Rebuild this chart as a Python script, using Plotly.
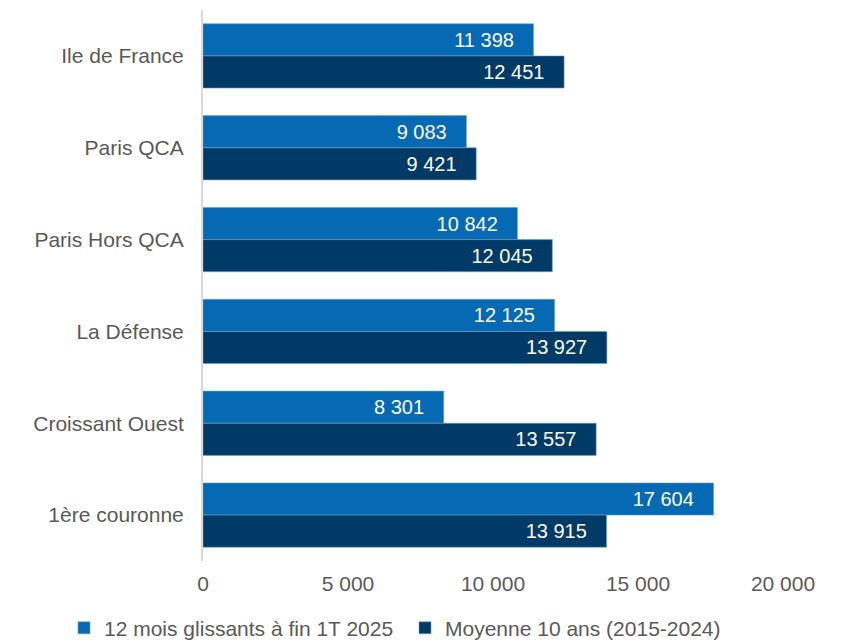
import plotly.graph_objects as go

regions = ["Ile de France", "Paris QCA", "Paris Hors QCA", "La Défense",
           "Croissant Ouest", "1ère couronne"]
rolling_12m = [11398, 9083, 10842, 12125, 8301, 17604]
avg_10y = [12451, 9421, 12045, 13927, 13557, 13915]
x_ticks = [0, 5000, 10000, 15000, 20000]

FONT = "Liberation Sans, Arial, sans-serif"
GREY = "#595959"
PAD = "\u00a0\u00a0\u00a0"  # keeps the value labels off the bar ends

fig = go.Figure()
fig.add_trace(go.Bar(
    y=regions, x=rolling_12m, orientation="h",
    name="12 mois glissants à fin 1T 2025", legend="legend",
    marker=dict(color="#0569b3", line=dict(color="#6f9fcf", width=0.6)),
    texttemplate="%{x:,d}" + PAD, textposition="inside", insidetextanchor="end",
    textfont=dict(color="white", size=20, family=FONT),
))
fig.add_trace(go.Bar(
    y=regions, x=avg_10y, orientation="h",
    name="Moyenne 10 ans (2015-2024)", legend="legend2",
    marker=dict(color="#003a66", line=dict(color="#6f9fcf", width=0.6)),
    texttemplate="%{x:,d}" + PAD, textposition="inside", insidetextanchor="end",
    textfont=dict(color="white", size=20, family=FONT),
))

legend_style = dict(orientation="h", xref="container", yref="container",
                    xanchor="left", y=0.02, yanchor="middle",
                    font=dict(size=21, color=GREY, family=FONT),
                    itemwidth=30, bgcolor="rgba(0,0,0,0)")

fig.update_layout(
    width=848, height=641,
    margin=dict(l=203, r=65, t=10, b=80, autoexpand=False),
    paper_bgcolor="white", plot_bgcolor="white",
    barmode="group", bargap=0.3, bargroupgap=0,
    separators=", ",
    font=dict(family=FONT, size=21, color=GREY),
    showlegend=True,
    legend=dict(legend_style, x=64 / 848),
    legend2=dict(legend_style, x=405 / 848),
    xaxis=dict(range=[0, 20000], tickvals=x_ticks, tickformat=",d",
               showgrid=False, zeroline=False, showline=False,
               ticks="", ticklabelstandoff=8,
               tickfont=dict(size=21, color=GREY)),
    yaxis=dict(autorange="reversed", showgrid=False, showline=True,
               linecolor="#d9d9d9", linewidth=2, ticks="",
               ticklabelstandoff=13,
               tickfont=dict(size=21, color=GREY)),
)

fig.write_html("out.html")
